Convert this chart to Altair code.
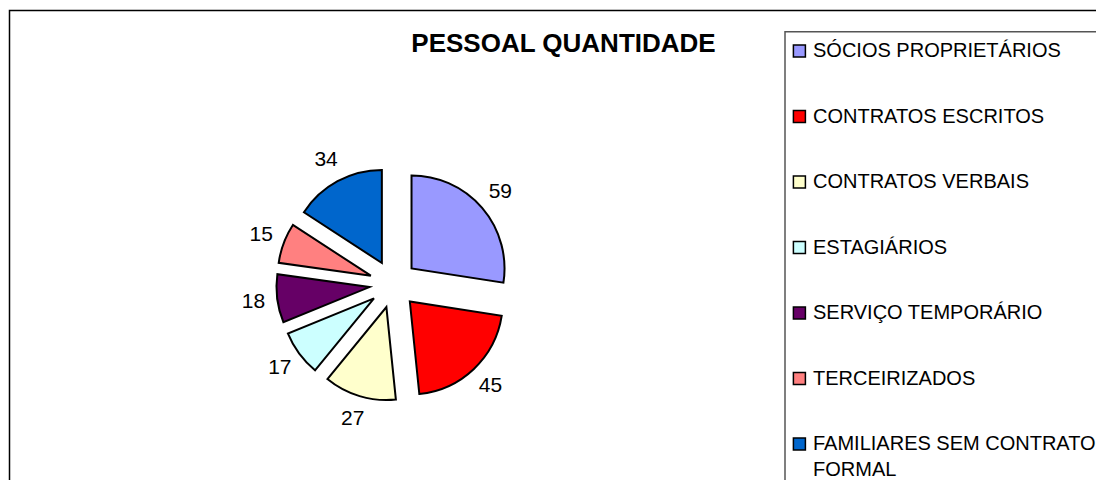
import altair as alt
import pandas as pd

# ---- data ----
categories = [
    "SÓCIOS PROPRIETÁRIOS",
    "CONTRATOS ESCRITOS",
    "CONTRATOS VERBAIS",
    "ESTAGIÁRIOS",
    "SERVIÇO TEMPORÁRIO",
    "TERCEIRIZADOS",
    "FAMILIARES SEM CONTRATO\nFORMAL",
]
values = [59, 45, 27, 17, 18, 15, 34]
colors = ["#9999FF", "#FF0000", "#FFFFCC", "#CCFFFF", "#660066", "#FF8080", "#0066CC"]
title_text = "PESSOAL QUANTIDADE"

# ---- layout ----
W, H = 1088, 472
CX, CY = 385.3, 276.1     # pie centre (px)
R = 93                    # pie radius
EXPLODE = 24              # explosion distance
LABEL_R = 141             # label distance
FONT = "Liberation Sans"

df = pd.DataFrame({"cat": categories, "value": values, "idx": list(range(len(values)))})

color_enc = alt.Color("cat:N", scale=alt.Scale(domain=categories, range=colors), legend=None)

base = (
    alt.Chart(df)
    .transform_joinaggregate(total="sum(value)")
    .transform_window(cum="sum(value)", frame=[None, 0], sort=[alt.SortField("idx")])
    .transform_calculate(
        a0="(datum.cum - datum.value) / datum.total * 2 * PI",
        a1="datum.cum / datum.total * 2 * PI",
    )
    .transform_calculate(mid="(datum.a0 + datum.a1) / 2")
    .transform_calculate(
        px=f"{CX} + {EXPLODE} * sin(datum.mid)",
        py=f"{CY} - {EXPLODE} * cos(datum.mid)",
        lx=f"{CX} + {LABEL_R} * sin(datum.mid)",
        ly=f"{CY} - {LABEL_R} * cos(datum.mid)",
    )
)

pie = base.mark_arc(outerRadius=R, stroke="black", strokeWidth=2).encode(
    x=alt.X("px:Q", scale=None, axis=None),
    y=alt.Y("py:Q", scale=None, axis=None),
    theta=alt.Theta("a0:Q", scale=None),
    theta2="a1:Q",
    color=color_enc,
)

labels = base.mark_text(font=FONT, fontSize=21, color="black", align="center", baseline="middle").encode(
    x=alt.X("lx:Q", scale=None, axis=None),
    y=alt.Y("ly:Q", scale=None, axis=None),
    text=alt.Text("value:Q"),
)

# outer frame and legend box
frame_df = pd.DataFrame({"k": [0]})
frame = alt.Chart(frame_df).mark_rect(fillOpacity=0, stroke="black", strokeWidth=1.5).encode(
    x=alt.value(1.5), y=alt.value(2.5), x2=alt.value(1300), y2=alt.value(700)
)
legend_box = alt.Chart(frame_df).mark_rect(fillOpacity=0, stroke="#555555", strokeWidth=1.5).encode(
    x=alt.value(777), y=alt.value(23.7), x2=alt.value(1300), y2=alt.value(700)
)

title = alt.Chart(frame_df).mark_text(
    text=title_text, font=FONT, fontSize=26, fontWeight="bold", align="center", baseline="middle"
).encode(x=alt.value(555.5), y=alt.value(36))

leg_y = alt.Y("cat:N", sort=categories,
              scale=alt.Scale(type="point", domain=categories, range=[43, 436], padding=0),
              axis=None)
leg_sq = alt.Chart(df).mark_square(size=144, stroke="black", strokeWidth=1.5, opacity=1).encode(
    x=alt.value(791.4), y=leg_y, color=color_enc
)
leg_txt = alt.Chart(df).mark_text(
    font=FONT, fontSize=20, align="left", baseline="middle", lineBreak="\n", lineHeight=26, color="black"
).encode(x=alt.value(805), y=leg_y, text="cat:N")

chart = (
    alt.layer(frame, legend_box, title, pie, labels, leg_sq, leg_txt)
    .resolve_scale(y="independent", x="independent")
    .properties(width=W, height=H, autosize=alt.AutoSizeParams(type="none"), padding=0)
    .configure_view(strokeWidth=0)
)

chart.save("out.html", embed_options={"renderer": "svg", "actions": False})
